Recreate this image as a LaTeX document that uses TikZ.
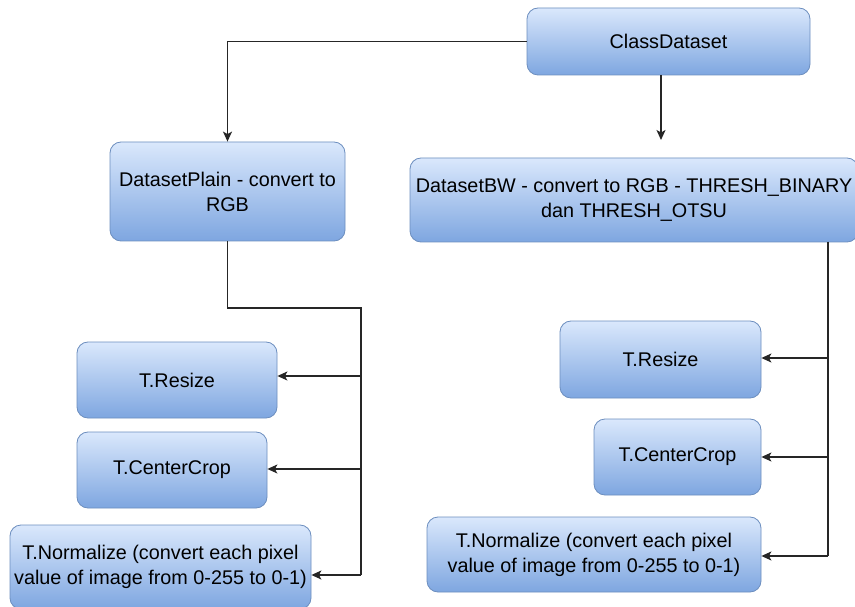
\documentclass[tikz,border=0pt]{standalone}
\usepackage{fontspec}
\setmainfont{Liberation Sans}
\usetikzlibrary{arrows.meta}
\definecolor{boxtop}{HTML}{DAE8FC}
\definecolor{boxbot}{HTML}{7EA6E0}
\definecolor{boxline}{HTML}{6C8EBF}
\tikzset{
  block/.style={draw=boxline, line width=0.8pt, rounded corners=11pt,
    top color=boxtop, bottom color=boxbot, align=center, inner sep=0pt,
    font=\fontsize{19.8}{25}\selectfont, text=black},
  link/.style={line width=1.3pt, draw=black!85},
  arr/.style={link, -{Stealth[length=10pt,width=9pt,inset=2.5pt]}}
}
\begin{document}
\begin{tikzpicture}[x=1pt,y=-1pt]
\useasboundingbox (0,0) rectangle (855,607);
\clip (0,0) rectangle (855,607);
\fill[white] (0,0) rectangle (855,607);

% boxes
\node[block, minimum width=283pt, minimum height=67pt] (cd) at (668.5,41.5) {ClassDataset};
\node[block, minimum width=235pt, minimum height=99pt] (dp) at (227.5,191.5) {DatasetPlain - convert to\\RGB};
\node[block, minimum width=448pt, minimum height=84pt] (bw) at (634,200) {DatasetBW - convert to RGB - THRESH\_BINARY\\dan THRESH\_OTSU};

\node[block, minimum width=200pt, minimum height=76pt] (lres) at (177,380) {T.Resize};
\node[block, minimum width=190pt, minimum height=76pt] (lcc) at (172,470) {T.CenterCrop};
\node[block, minimum width=301pt, minimum height=84pt] (lnorm) at (160.5,567) {T.Normalize (convert each pixel\\value of image from 0-255 to 0-1)};

\node[block, minimum width=201pt, minimum height=77pt] (rres) at (660.5,359.5) {T.Resize};
\node[block, minimum width=167pt, minimum height=76pt] (rcc) at (677.5,457) {T.CenterCrop};
\node[block, minimum width=334pt, minimum height=75pt] (rnorm) at (594,554.5) {T.Normalize (convert each pixel\\value of image from 0-255 to 0-1)};

% top-level links
\coordinate (bwin) at (661,140);
\draw[arr] (cd.west) -| (dp.north);
\draw[arr] (cd.south -| bwin) -- (bwin);

% left chain
\coordinate (lturn) at (227.5,308);
\coordinate (lbus) at (361,308);
\coordinate (la1) at (361,376);
\coordinate (la2) at (361,469);
\coordinate (la3) at (361,575);
\draw[link] (dp.south) -- (lturn) -- (lbus) -- (la3);
\draw[arr] (la1) -- (la1 -| lres.east);
\draw[arr] (la2) -- (la2 -| lcc.east);
\draw[arr] (la3) -- (la3 -| lnorm.east);

% right chain
\coordinate (rtop) at (828,242);
\coordinate (ra1) at (828,358);
\coordinate (ra2) at (828,457);
\coordinate (ra3) at (828,556);
\draw[link] (rtop) -- (ra3);
\draw[arr] (ra1) -- (ra1 -| rres.east);
\draw[arr] (ra2) -- (ra2 -| rcc.east);
\draw[arr] (ra3) -- (ra3 -| rnorm.east);
\end{tikzpicture}
\end{document}
